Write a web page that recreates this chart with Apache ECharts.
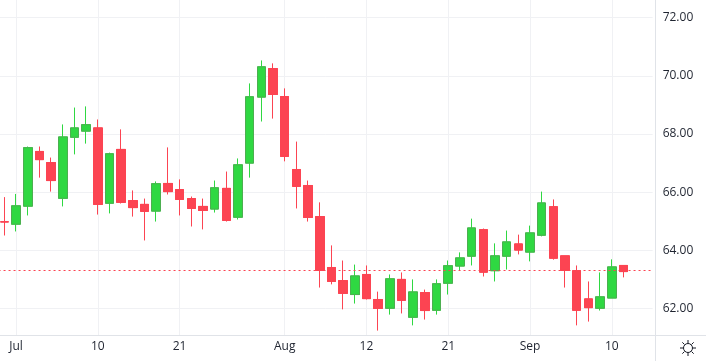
<!DOCTYPE html>
<html><head><meta charset="utf-8">
<style>html,body{margin:0;padding:0;background:#fff}#c{width:706px;height:361px}</style>
<script src="https://cdn.jsdelivr.net/npm/echarts@6/dist/echarts.min.js"></script>
</head><body><div id="c"></div>
<script>
const tickLabels = {1:'Jul',8:'10',15:'21',24:'Aug',31:'12',38:'21',45:'Sep',52:'10'};
const opens  = [64.98,64.90,65.52,67.40,67.02,65.79,67.89,68.10,68.21,65.62,67.47,65.71,65.58,65.35,66.30,66.09,65.78,65.51,65.42,66.13,65.14,67.00,69.27,70.25,69.29,66.78,66.23,65.16,63.41,62.96,62.48,63.17,62.31,62.01,63.00,61.70,62.55,61.94,62.87,63.46,63.80,64.71,63.30,63.80,64.22,63.94,64.52,65.50,63.81,63.30,62.33,62.01,62.36,63.48];
const closes = [64.98,65.53,67.53,67.12,66.40,67.90,68.21,68.32,65.58,67.32,65.65,65.47,65.34,66.29,66.02,65.75,65.44,65.37,66.15,65.03,66.94,69.28,70.31,69.36,67.23,66.20,65.13,63.31,62.93,62.52,63.12,62.34,62.00,63.02,62.28,62.57,61.93,62.85,63.47,63.74,64.77,63.25,63.81,64.29,64.01,64.60,65.63,63.73,63.31,61.94,62.03,62.40,63.43,63.27];
const lows   = [64.51,64.65,65.20,66.50,66.02,65.51,67.30,67.67,65.23,65.27,65.61,65.16,64.34,64.99,65.92,65.20,64.82,64.72,65.30,64.99,65.06,66.50,68.43,68.53,67.06,65.44,64.99,62.72,62.83,61.97,62.17,62.31,61.24,61.79,61.83,61.42,61.62,61.79,62.48,63.31,63.48,63.10,62.93,63.34,63.86,63.62,64.48,63.68,62.72,61.42,61.55,61.93,62.36,63.07];
const highs  = [65.83,65.94,67.57,67.57,67.19,68.33,68.91,68.95,68.50,67.36,68.16,66.06,65.78,66.37,67.54,66.44,65.85,65.78,66.40,66.71,67.16,69.74,70.53,70.43,69.57,67.74,66.40,65.65,64.17,63.65,63.51,63.48,62.58,63.17,63.24,63.00,62.65,63.00,63.65,63.93,65.09,64.75,64.24,64.68,64.54,64.85,66.02,65.75,63.81,63.48,62.93,63.24,63.69,63.48];
const lastPrice = 63.30;

const categories = Array.from({length:56},(_,i)=>tickLabels[i]||'');
const wicks = opens.map((o,i)=>[o,closes[i],lows[i],highs[i]]);
const bodies = opens.map((o,i)=>[o,closes[i],Math.min(o,closes[i]),Math.max(o,closes[i])]);
const UP='#2fd842', UPB='#4caf50', DN='#fc4452', TXT='#1f2430', GRID='#f0f1f4', EDGE='#e0e3e8';
const labelled = (i)=>!!tickLabels[i];
const FONT='"Open Sans"';
const chart = echarts.init(document.getElementById('c'),null,{renderer:'canvas'});
const sunX=688, sunY=348;
const rays=[];
for(let a=0;a<8;a++){const t=a*Math.PI/4;rays.push({type:'line',silent:true,shape:{x1:sunX+5*Math.cos(t),y1:sunY+5*Math.sin(t),x2:sunX+8*Math.cos(t),y2:sunY+8*Math.sin(t)},style:{stroke:'#131722',lineWidth:1}});}
chart.setOption({
  animation:false,
  backgroundColor:'#fff',
  grid:[
    {left:-1.44,top:-40.46,width:654.08,height:407.12,outerBoundsMode:'none'},
    {left:-1.44,top:0,width:654.08,height:335,outerBoundsMode:'none'}
  ],
  xAxis:[
    {type:'category',gridIndex:0,data:categories,boundaryGap:true,show:false},
    {type:'category',gridIndex:1,data:categories,boundaryGap:true,
     axisLine:{show:false},
     axisTick:{show:false,alignWithLabel:true,interval:labelled},
     axisLabel:{interval:0,color:TXT,fontFamily:FONT,fontSize:12,margin:6,hideOverlap:false},
     splitLine:{show:true,alignWithLabel:true,interval:labelled,lineStyle:{color:GRID,width:1}}}
  ],
  yAxis:[
    {type:'value',gridIndex:0,position:'right',min:60,max:74,interval:2,offset:2,
     axisLine:{show:false},axisTick:{show:false},
     axisLabel:{color:TXT,fontFamily:FONT,fontSize:12,margin:8,showMinLabel:false,showMaxLabel:false,formatter:v=>v.toFixed(2)},
     splitLine:{show:true,lineStyle:{color:GRID,width:1}}},
    {type:'value',gridIndex:1,min:60,max:74,show:false}
  ],
  series:[
    {type:'candlestick',name:'wick',xAxisIndex:0,yAxisIndex:0,data:wicks,barWidth:9,
     itemStyle:{color:UP,color0:DN,borderColor:UP,borderColor0:DN,borderColorDoji:DN,borderWidth:1},
     markLine:{silent:true,symbol:'none',label:{show:false},data:[{yAxis:lastPrice}],
       lineStyle:{color:DN,type:[2,3],width:1}}},
    {type:'candlestick',name:'body',xAxisIndex:0,yAxisIndex:0,data:bodies,barWidth:9,
     itemStyle:{color:UP,color0:DN,borderColor:UPB,borderColor0:DN,borderColorDoji:DN,borderWidth:1}}
  ],
  graphic:[
    {type:'line',silent:true,shape:{x1:0,y1:335.5,x2:706,y2:335.5},style:{stroke:EDGE,lineWidth:1}},
    {type:'line',silent:true,shape:{x1:655.5,y1:0,x2:655.5,y2:361},style:{stroke:EDGE,lineWidth:1}},
    {type:'circle',silent:true,shape:{cx:sunX,cy:sunY,r:4.5},style:{fill:'#fff',stroke:'#131722',lineWidth:1}},
    ...rays
  ]
});
</script></body></html>
